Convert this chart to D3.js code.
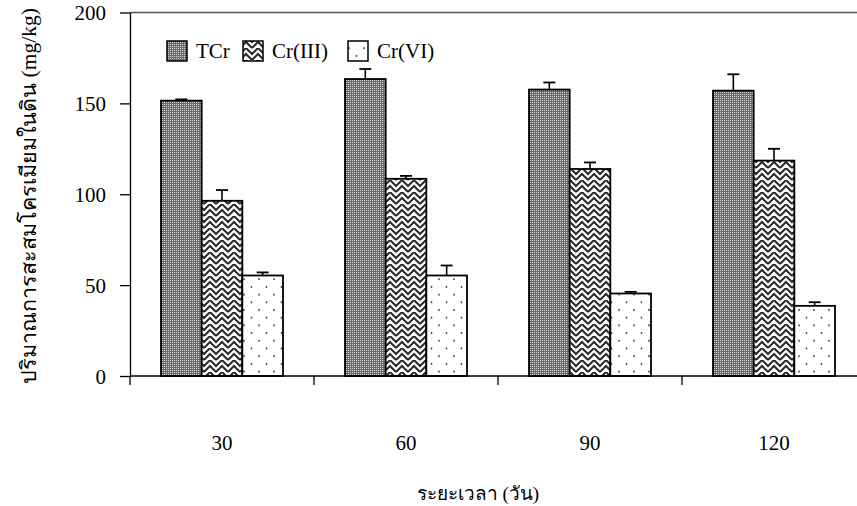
<!DOCTYPE html>
<html><head><meta charset="utf-8">
<script src="https://cdn.jsdelivr.net/npm/d3@7"></script>
<style>
body{margin:0;background:#fff;}
svg{display:block;}
text{font-family:"Liberation Serif","Times New Roman","DejaVu Serif",serif;fill:#000;}
</style></head>
<body>
<script>
const categories = ["30","60","90","120"];
const seriesNames = ["TCr","Cr(III)","Cr(VI)"];
const tcrValues   = [151.5, 163.4, 157.6, 157.0];
const tcrErrors   = [0.7, 5.5, 3.9, 9.0];
const cr3Values   = [96.4, 108.5, 113.9, 118.5];
const cr3Errors   = [5.9, 1.6, 3.6, 6.5];
const cr6Values   = [55.3, 55.3, 45.4, 38.6];
const cr6Errors   = [1.7, 5.5, 0.9, 2.0];
const yTicks = [0, 50, 100, 150, 200];
const xTitle = "ระยะเวลา (วัน)";
const yTitle = "ปริมาณการสะสมโครเมียมในดิน (mg/kg)";

const W = 857, H = 506;
const svg = d3.select("body").append("svg").attr("width", W).attr("height", H);
const defs = svg.append("defs");

// TCr: dark fine checker
const p1 = defs.append("pattern").attr("id","pTCr").attr("patternUnits","userSpaceOnUse").attr("width",2).attr("height",2);
p1.append("rect").attr("width",2).attr("height",2).attr("fill","#6a6a6a");
p1.append("rect").attr("width",1).attr("height",1).attr("fill","#d6d6d6");

// Cr(III): herringbone zigzag
const p2 = defs.append("pattern").attr("id","pCr3").attr("patternUnits","userSpaceOnUse").attr("width",12).attr("height",12);
p2.append("rect").attr("width",12).attr("height",12).attr("fill","#fff");
p2.append("path").attr("d","M-1,7 L6,0 L13,7 M-1,13 L6,6 L13,13 M-1,1 L0,0 M12,0 L13,1").attr("stroke","#2a2a2a").attr("stroke-width",2).attr("fill","none");

// Cr(VI): sparse staggered dots
const p3 = defs.append("pattern").attr("id","pCr6").attr("patternUnits","userSpaceOnUse").attr("width",15).attr("height",15.4).attr("x",3).attr("y",1);
p3.append("rect").attr("width",15).attr("height",15.4).attr("fill","#fff");
p3.append("circle").attr("cx",1).attr("cy",1).attr("r",0.9).attr("fill","#333");
p3.append("circle").attr("cx",8.5).attr("cy",8.7).attr("r",0.9).attr("fill","#333");

const fills = ["url(#pTCr)","url(#pCr3)","url(#pCr6)"];

const y0 = 376, yTop = 12.5, xLeft = 130, band = 184;
const x = d3.scaleBand().domain(categories).range([xLeft, xLeft + band*categories.length]).paddingInner(0).paddingOuter(0);
const xs = d3.scaleBand().domain(seriesNames).range([31, 153]).padding(0);
const y = d3.scaleLinear().domain([0,200]).range([y0, yTop]);

const valuesBySeries = [tcrValues, cr3Values, cr6Values];
const errorsBySeries = [tcrErrors, cr3Errors, cr6Errors];

const data = [];
categories.forEach((c,i)=>{
  seriesNames.forEach((s,j)=>{
    data.push({c, s, j, v: valuesBySeries[j][i], e: errorsBySeries[j][i]});
  });
});

// top frame line
svg.append("line").attr("x1",xLeft).attr("x2",W).attr("y1",yTop).attr("y2",yTop)
  .attr("stroke","#555").attr("stroke-width",1.5);

// error bars
const eg = svg.append("g");
data.forEach(d=>{
  const cx = x(d.c) + xs(d.s) + xs.bandwidth()/2;
  eg.append("line").attr("x1",cx).attr("x2",cx).attr("y1",y(d.v)).attr("y2",y(d.v+d.e)).attr("stroke","#000").attr("stroke-width",1.6);
  eg.append("line").attr("x1",cx-6).attr("x2",cx+6).attr("y1",y(d.v+d.e)).attr("y2",y(d.v+d.e)).attr("stroke","#000").attr("stroke-width",1.8);
});

// bars
svg.append("g").selectAll("rect").data(data).join("rect")
  .attr("x", d=>x(d.c)+xs(d.s))
  .attr("y", d=>y(d.v))
  .attr("width", xs.bandwidth())
  .attr("height", d=>y0 - y(d.v))
  .attr("fill", d=>fills[d.j])
  .attr("stroke","#000").attr("stroke-width",1.8);

// y axis
const yAxis = d3.axisLeft(y).tickValues(yTicks).tickSize(10).tickPadding(14).tickSizeOuter(0);
const ya = svg.append("g").attr("transform",`translate(${xLeft},0)`).call(yAxis);
ya.select(".domain").attr("stroke","#000").attr("stroke-width",1.3);
ya.selectAll(".tick line").attr("stroke","#000").attr("stroke-width",1.3);
ya.selectAll(".tick text").attr("font-size",21).attr("font-family","Liberation Serif, serif").attr("fill","#000").attr("dy","0.34em");

// x axis line + boundary ticks
svg.append("line").attr("x1",xLeft).attr("x2",W).attr("y1",y0).attr("y2",y0).attr("stroke","#000").attr("stroke-width",1.3);
const bounds = categories.map(c=>x(c)).concat([x(categories[categories.length-1])+band]);
svg.append("g").selectAll("line").data(bounds).join("line")
  .attr("x1",d=>d).attr("x2",d=>d).attr("y1",y0).attr("y2",y0+9)
  .attr("stroke","#000").attr("stroke-width",1.3);
svg.append("g").selectAll("text").data(categories).join("text")
  .attr("x",d=>x(d)+band/2).attr("y",450)
  .attr("text-anchor","middle").attr("font-size",21).text(d=>d);

// axis titles
svg.append("text").attr("x",478).attr("y",500).attr("text-anchor","middle").attr("font-size",19).text(xTitle);
svg.append("text").attr("transform","translate(36,196) rotate(-90)").attr("text-anchor","middle").attr("font-size",21.5).text(yTitle);

// legend
const lg = svg.append("g");
const legendX = [167, 243, 348];
seriesNames.forEach((s,j)=>{
  lg.append("rect").attr("x",legendX[j]).attr("y",41).attr("width",20).attr("height",20)
    .attr("fill",fills[j]).attr("stroke","#000").attr("stroke-width",1.5);
  lg.append("text").attr("x",legendX[j]+29).attr("y",58).attr("font-size",21).text(s);
});
</script>
</body></html>
